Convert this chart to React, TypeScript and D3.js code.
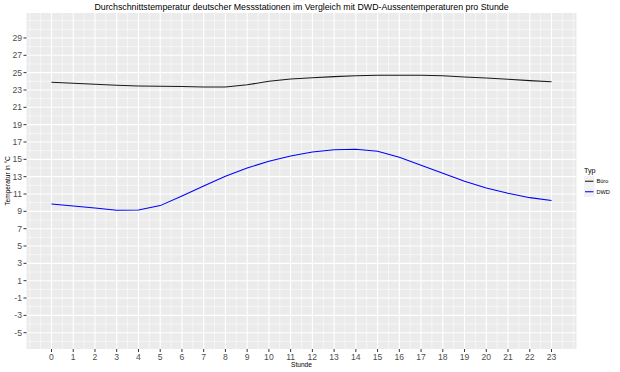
import * as d3 from "d3";

const hours = d3.range(0, 24);
const bueroTemps = [
  23.89, 23.77, 23.65, 23.54, 23.46, 23.43, 23.39, 23.35, 23.35, 23.6, 24.0, 24.27,
  24.42, 24.54, 24.65, 24.7, 24.7, 24.7, 24.65, 24.5, 24.39, 24.23, 24.08, 23.96,
];
const dwdTemps = [
  9.85, 9.62, 9.39, 9.12, 9.16, 9.66, 10.78, 11.93, 13.05, 14.0, 14.78, 15.39,
  15.85, 16.1, 16.16, 15.93, 15.24, 14.32, 13.39, 12.47, 11.7, 11.09, 10.58, 10.24,
];
const yTicks = d3.range(-5, 30, 2);
const seriesNames = ["Büro", "DWD"];
const seriesColors = ["#1a1a1a", "#0000ff"];

const W = 620;
const H = 372;
const panel = { left: 26.5, right: 576.5, top: 13, bottom: 349 };
const font = "'Liberation Sans', Arial, Helvetica, sans-serif";

export default function App() {
  const x = d3.scaleLinear().domain([-1.15, 24.15]).range([panel.left, panel.right]);
  const y = d3.scaleLinear().domain([-6.88, 31.88]).range([panel.bottom, panel.top]);

  const xMinor = d3.range(-1, 24.01, 0.5).filter((v) => !Number.isInteger(v) || v < 0 || v > 23);
  const yMinor = d3.range(-6, 31.01, 1).filter((v) => !yTicks.includes(v));

  const line = d3
    .line<number>()
    .x((_, i) => x(hours[i]))
    .y((d) => y(d));

  const series = [bueroTemps, dwdTemps];

  return (
    <svg width={W} height={H} style={{ position: "absolute", left: 0, top: 0, background: "#fff" }}>
      <rect x={0} y={0} width={W} height={H} fill="#fff" />
      <text x={(panel.left + panel.right) / 2} y={9.5} textAnchor="middle" fontFamily={font} fontSize={8.8} fill="#000">
        Durchschnittstemperatur deutscher Messstationen im Vergleich mit DWD-Aussentemperaturen pro Stunde
      </text>

      <rect
        x={panel.left}
        y={panel.top}
        width={panel.right - panel.left}
        height={panel.bottom - panel.top}
        fill="#ebebeb"
      />
      {/* minor grid */}
      {xMinor.map((v) => (
        <line key={"xm" + v} x1={x(v)} x2={x(v)} y1={panel.top} y2={panel.bottom} stroke="#fff" strokeWidth={0.55} />
      ))}
      {yMinor.map((v) => (
        <line key={"ym" + v} x1={panel.left} x2={panel.right} y1={y(v)} y2={y(v)} stroke="#fff" strokeWidth={0.55} />
      ))}
      {/* major grid */}
      {hours.map((v) => (
        <line key={"xg" + v} x1={x(v)} x2={x(v)} y1={panel.top} y2={panel.bottom} stroke="#fff" strokeWidth={1.1} />
      ))}
      {yTicks.map((v) => (
        <line key={"yg" + v} x1={panel.left} x2={panel.right} y1={y(v)} y2={y(v)} stroke="#fff" strokeWidth={1.1} />
      ))}

      {series.map((s, i) => (
        <path key={seriesNames[i]} d={line(s) || ""} fill="none" stroke={seriesColors[i]} strokeWidth={1.05} />
      ))}

      {/* y axis */}
      {yTicks.map((v) => (
        <g key={"yt" + v}>
          <line x1={panel.left - 3} x2={panel.left} y1={y(v)} y2={y(v)} stroke="#333" strokeWidth={1} />
          <text x={panel.left - 4.5} y={y(v) + 3} textAnchor="end" fontFamily={font} fontSize={8.6} fill="#4d4d4d">
            {v}
          </text>
        </g>
      ))}
      {/* x axis */}
      {hours.map((v) => (
        <g key={"xt" + v}>
          <line x1={x(v)} x2={x(v)} y1={panel.bottom} y2={panel.bottom + 3} stroke="#333" strokeWidth={1} />
          <text x={x(v)} y={panel.bottom + 11} textAnchor="middle" fontFamily={font} fontSize={8.6} fill="#4d4d4d">
            {v}
          </text>
        </g>
      ))}
      <text x={(panel.left + panel.right) / 2} y={367} textAnchor="middle" fontFamily={font} fontSize={6.6} fill="#000">
        Stunde
      </text>
      <text
        transform={`translate(9.5, ${(panel.top + panel.bottom) / 2}) rotate(-90)`}
        textAnchor="middle"
        fontFamily={font}
        fontSize={6.6}
        fill="#000"
      >
        Temperatur in °C
      </text>

      {/* legend */}
      <text x={584} y={173} fontFamily={font} fontSize={7.2} fill="#000">
        Typ
      </text>
      {seriesNames.map((n, i) => (
        <g key={"lg" + n} transform={`translate(584, ${176 + i * 10.5})`}>
          <rect x={0} y={0} width={10.5} height={10.5} fill="#f2f2f2" />
          <line x1={1} x2={9.5} y1={5.25} y2={5.25} stroke={seriesColors[i]} strokeWidth={1.05} />
          <text x={12.5} y={7.3} fontFamily={font} fontSize={5.6} fill="#000">
            {n}
          </text>
        </g>
      ))}
    </svg>
  );
}
